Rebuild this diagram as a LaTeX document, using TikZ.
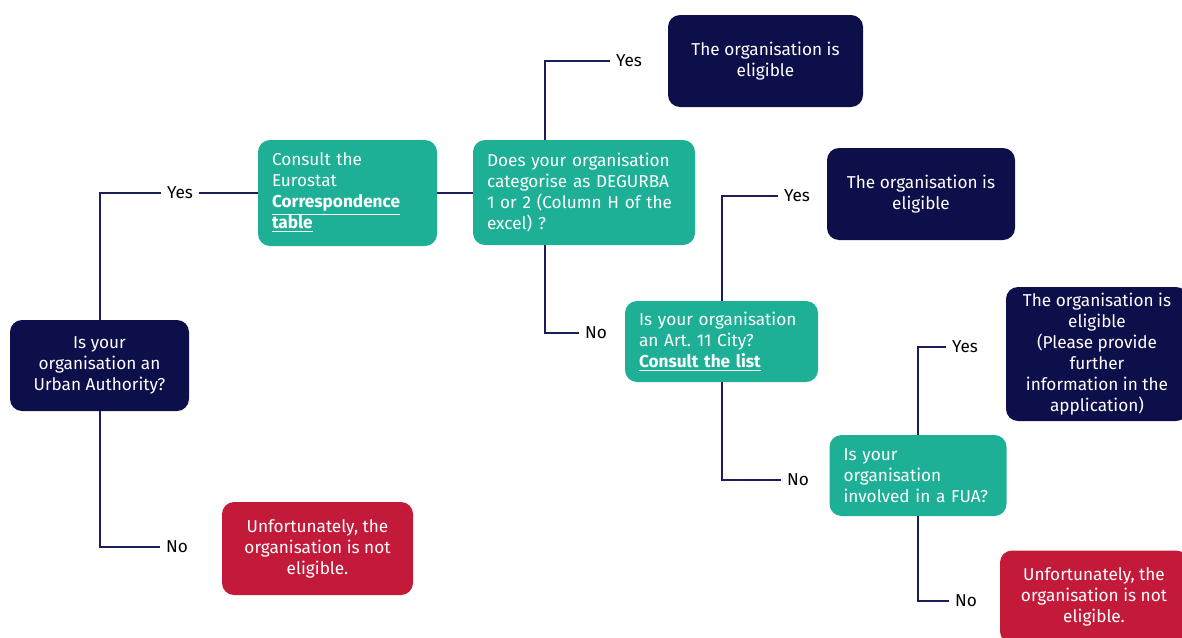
\documentclass[tikz,border=0pt]{standalone}
\usepackage{fontspec}
\setmainfont{Fira Sans}
\definecolor{Navy}{HTML}{0D0F4B}
\definecolor{Teal}{HTML}{1EB096}
\definecolor{Crimson}{HTML}{C41A3A}
\definecolor{Wire}{HTML}{1C1D5C}
\begin{document}
\begin{tikzpicture}[x=0.5pt,y=-0.5pt,
base/.style={rounded corners=6pt,text=white,font=\fontsize{8.6}{10.5}\selectfont,inner sep=0pt},
qbox/.style={base,fill=Teal,align=left,inner xsep=7pt},
okbox/.style={base,fill=Navy,align=center},
nobox/.style={base,fill=Crimson,align=center},
answer/.style={font=\fontsize{8.6}{10.5}\selectfont,inner sep=3pt},
link/.style={draw=Wire,line width=1pt}]
\useasboundingbox (0,0) rectangle (1182,637);
\node[okbox,minimum width=89.5pt,minimum height=45.5pt](urban) at (99.5,365.5){Is your\\organisation an\\Urban Authority?};
\node[qbox,text width=75.5pt,minimum height=53pt](consult) at (347.5,193){Consult the\\Eurostat\\\underline{\textbf{Correspondence}}\\\underline{\textbf{table}}};
\node[qbox,text width=97pt,minimum height=52.5pt](degurba) at (584,192.5){Does your organisation\\categorise as DEGURBA\\1 or 2 (Column H of the\\excel) ?};
\node[okbox,minimum width=97.5pt,minimum height=46pt](eligA) at (765.5,61){The organisation is\\eligible};
\node[qbox,text width=82.5pt,minimum height=40.5pt](city) at (721.5,341.5){Is your organisation\\an Art.\ 11 City?\\\underline{\textbf{Consult the list}}};
\node[okbox,minimum width=94pt,minimum height=46pt](eligB) at (921,194){The organisation is\\eligible};
\node[qbox,text width=74.5pt,minimum height=40.5pt](fua) at (918,475.5){Is your\\organisation\\involved in a FUA?};
\node[okbox,minimum width=91pt,minimum height=67pt](eligC) at (1097,354){The organisation is\\eligible\\(Please provide\\further\\information in the\\application)};
\node[nobox,minimum width=95.5pt,minimum height=46.5pt](notA) at (317.5,548.5){Unfortunately, the\\organisation is not\\eligible.};
\node[nobox,minimum width=94pt,minimum height=46.5pt](notB) at (1094,597){Unfortunately, the\\organisation is not\\eligible.};
\node[answer](yesA) at (180,193){Yes};
\node[answer](noA) at (177,547){No};
\node[answer](yesB) at (629,61){Yes};
\node[answer](noB) at (596,333){No};
\node[answer](yesC) at (797,196){Yes};
\node[answer](noC) at (798,480){No};
\node[answer](yesD) at (965,347){Yes};
\node[answer](noD) at (966,601){No};
\draw[link](urban.north)|-(yesA.west);\draw[link](yesA.east)--(consult.west);
\draw[link](urban.south)|-(noA.west);
\draw[link](consult.east)--(consult.east-|degurba.west);
\draw[link]([xshift=-19.5pt]degurba.north)|-(yesB.west);\draw[link]([xshift=-19.5pt]degurba.south)|-(noB.west);
\draw[link](city.north)|-(yesC.west);\draw[link](city.south)|-(noC.west);
\draw[link](fua.north)|-(yesD.west);\draw[link](fua.south)|-(noD.west);
\end{tikzpicture}
\end{document}
